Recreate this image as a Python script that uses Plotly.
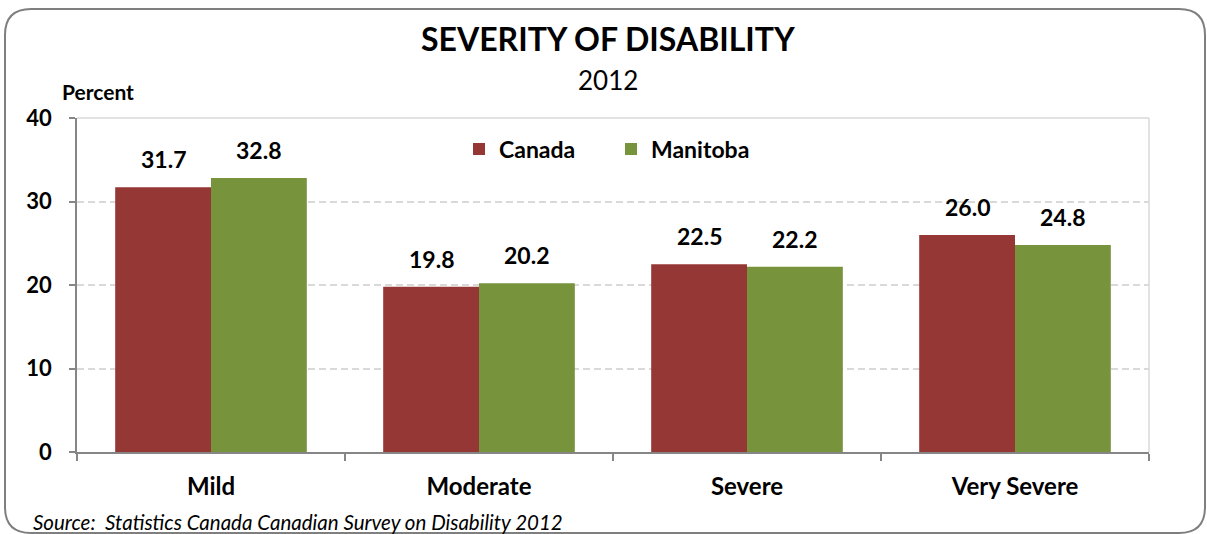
import plotly.graph_objects as go

categories = ["Mild", "Moderate", "Severe", "Very Severe"]
canada = [31.7, 19.8, 22.5, 26.0]
manitoba = [32.8, 20.2, 22.2, 24.8]
y_ticks = [0, 10, 20, 30, 40]

W, H = 1207, 534
L, R, T, B = 77, 58, 118, 82
PW, PH = W - L - R, H - T - B
BARGAP = 0.285


def px_x(px):
    return (px - L) / PW


def px_y(py):
    return (H - B - py) / PH


FONT = "Lato"
BLACK = "#000000"

fig = go.Figure()
fig.add_trace(go.Bar(name="Canada", x=categories, y=canada,
                     marker_color="#953735", marker_line_width=0))
fig.add_trace(go.Bar(name="Manitoba", x=categories, y=manitoba,
                     marker_color="#77933C", marker_line_width=0))

# value labels above each bar, offset to the bar's slot in the group
slot = PW / len(categories) * (1 - BARGAP) / 2
annotations = []
for series, shift in ((canada, -slot / 2), (manitoba, slot / 2)):
    for cat, v in zip(categories, series):
        annotations.append(dict(
            x=cat, y=v, xref="x", yref="y", text=f"<b>{v:.1f}</b>",
            xanchor="center", yanchor="bottom", xshift=shift, yshift=12,
            showarrow=False, font=dict(family=FONT, size=23, color=BLACK),
        ))

# rounded outer frame
x0, x1 = px_x(5), px_x(1205)
y0, y1 = px_y(533), px_y(9)
rx, ry = 26 / PW, 26 / PH
frame = (
    f"M {x0 + rx} {y1} L {x1 - rx} {y1} Q {x1} {y1} {x1} {y1 - ry} "
    f"L {x1} {y0 + ry} Q {x1} {y0} {x1 - rx} {y0} "
    f"L {x0 + rx} {y0} Q {x0} {y0} {x0} {y0 + ry} "
    f"L {x0} {y1 - ry} Q {x0} {y1} {x0 + rx} {y1} Z"
)
shapes = [
    dict(type="path", xref="paper", yref="paper", path=frame,
         line=dict(color="#7F7F7F", width=2), layer="below"),
    # top and right edges of the plot area
    dict(type="line", xref="paper", yref="paper", x0=0, x1=1, y0=1, y1=1,
         line=dict(color="#D9D9D9", width=1.5)),
    dict(type="line", xref="paper", yref="paper", x0=1, x1=1, y0=0, y1=1,
         line=dict(color="#D9D9D9", width=1.5)),
]

annotations += [
    dict(text="<b>SEVERITY OF DISABILITY</b>", xref="paper", yref="paper",
         x=px_x(608), y=px_y(38), xanchor="center", yanchor="middle",
         showarrow=False, font=dict(family=FONT, size=32, color=BLACK)),
    dict(text="2012", xref="paper", yref="paper",
         x=px_x(608), y=px_y(80), xanchor="center", yanchor="middle",
         showarrow=False, font=dict(family=FONT, size=26, color=BLACK)),
    dict(text="<b>Percent</b>", xref="paper", yref="paper",
         x=px_x(60), y=px_y(91), xanchor="left", yanchor="middle",
         showarrow=False, font=dict(family=FONT, size=21, color=BLACK)),
    dict(text="<i>Source:  Statistics Canada Canadian Survey on Disability 2012</i>",
         xref="paper", yref="paper",
         x=px_x(31), y=px_y(522), xanchor="left", yanchor="middle",
         showarrow=False, font=dict(family=FONT, size=20.5, color=BLACK)),
]

fig.update_layout(
    width=W, height=H,
    margin=dict(l=L, r=R, t=T, b=B, pad=0),
    paper_bgcolor="#FFFFFF", plot_bgcolor="#FFFFFF",
    barmode="group", bargap=BARGAP, bargroupgap=0,
    font=dict(family=FONT, color=BLACK),
    showlegend=True,
    legend=dict(
        orientation="h", x=px_x(459), y=px_y(149), xanchor="left", yanchor="middle",
        font=dict(family=FONT, size=23, color=BLACK, weight="bold"),
        bgcolor="rgba(0,0,0,0)", itemwidth=30, traceorder="normal",
        entrywidth=107, entrywidthmode="pixels",
    ),
    shapes=shapes,
    annotations=annotations,
)

fig.update_xaxes(
    showgrid=False, showline=True, linecolor="#868686", linewidth=1.5,
    ticks="outside", tickson="boundaries", ticklen=7, tickcolor="#868686",
    tickwidth=1.5,
    tickfont=dict(family=FONT, size=24, color=BLACK, weight="bold"),
    ticklabelstandoff=12,
)
fig.update_yaxes(
    range=[0, 40], tickvals=y_ticks, showline=True, linecolor="#868686",
    linewidth=1.5, ticks="outside", ticklen=6, tickcolor="#868686", tickwidth=1.5,
    showgrid=True, gridcolor="#D9D9D9", griddash="7px,4px", gridwidth=1.5,
    zeroline=False,
    tickfont=dict(family=FONT, size=22, color=BLACK, weight="bold"),
    ticklabelstandoff=13,
)

fig.write_html("out.html")
